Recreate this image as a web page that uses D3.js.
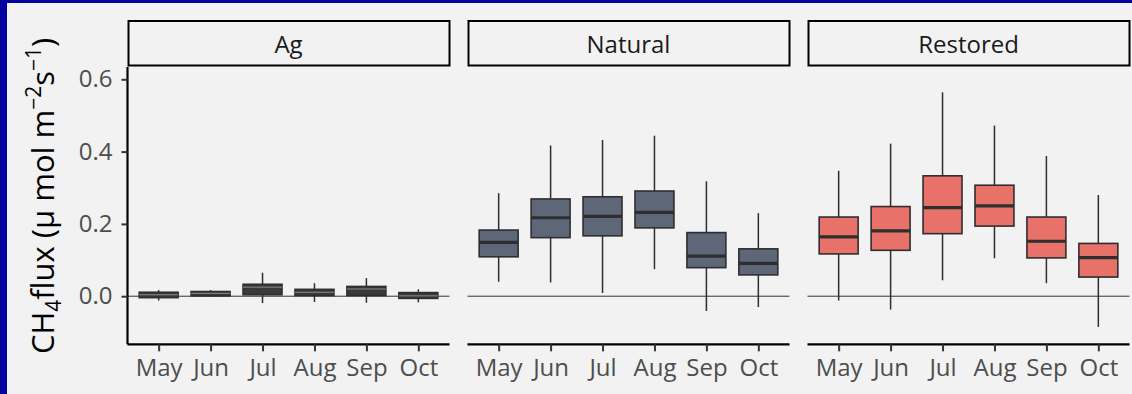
<!DOCTYPE html>
<html>
<head>
<meta charset="utf-8">
<script src="https://cdn.jsdelivr.net/npm/d3@7"></script>
<style>
  html, body { margin: 0; padding: 0; background: #f2f2f2; }
  svg { display: block; }
  text { font-family: "Open Sans", "Noto Sans", sans-serif; }
</style>
</head>
<body>
<svg id="chart" width="1132" height="394"></svg>
<script>
// Monthly CH4 flux distributions by site type
const months = ["May", "Jun", "Jul", "Aug", "Sep", "Oct"];
const sites = ["Ag", "Natural", "Restored"];
const yTicks = [0.0, 0.2, 0.4, 0.6];

// five-number summaries per month: [lower whisker, Q1, median, Q3, upper whisker]
const agStats = [
  [-0.012, -0.004, 0.004, 0.011, 0.017],
  [-0.001, 0.001, 0.008, 0.013, 0.017],
  [-0.019, 0.004, 0.025, 0.033, 0.065],
  [-0.016, 0.002, 0.011, 0.019, 0.036],
  [-0.018, 0.002, 0.020, 0.027, 0.050],
  [-0.017, -0.006, 0.001, 0.010, 0.019]
];
const naturalStats = [
  [0.040, 0.109, 0.149, 0.183, 0.285],
  [0.038, 0.162, 0.217, 0.269, 0.417],
  [0.009, 0.167, 0.221, 0.275, 0.432],
  [0.075, 0.189, 0.232, 0.291, 0.444],
  [-0.041, 0.079, 0.111, 0.176, 0.318],
  [-0.030, 0.059, 0.091, 0.131, 0.230]
];
const restoredStats = [
  [-0.012, 0.117, 0.164, 0.219, 0.347],
  [-0.037, 0.127, 0.181, 0.248, 0.422],
  [0.044, 0.173, 0.245, 0.333, 0.564],
  [0.105, 0.194, 0.250, 0.307, 0.472],
  [0.036, 0.106, 0.152, 0.219, 0.388],
  [-0.085, 0.053, 0.107, 0.146, 0.280]
];

const siteData = [agStats, naturalStats, restoredStats];
const siteFill = ["#393939", "#5e6778", "#e8716a"];
const siteMedian = ["#8c8c8c", "#2e2e2e", "#2e2e2e"];

const svg = d3.select("#chart");

// page frame
svg.append("rect").attr("x", 0).attr("y", 0).attr("width", 1132).attr("height", 394).attr("fill", "#0303a0");
svg.append("rect").attr("x", 7).attr("y", 3).attr("width", 1125).attr("height", 391).attr("fill", "#f2f2f2");

const panelTop = 67, panelBottom = 344.3;
const panelW = 322;
const panelLefts = [127.5, 467.5, 807.5];

const y = d3.scaleLinear().domain([-0.133, 0.634]).range([panelBottom, panelTop]);

sites.forEach((site, i) => {
  const x0 = panelLefts[i];
  const x = d3.scalePoint().domain(months).range([x0, x0 + panelW]).padding(0.6);
  const bw = x.step() * 0.75;
  const g = svg.append("g");

  // facet strip
  g.append("rect")
    .attr("x", x0 + 1).attr("y", 21).attr("width", panelW - 1).attr("height", 44.5)
    .attr("fill", "none").attr("stroke", "#000").attr("stroke-width", 2);
  g.append("text")
    .attr("x", x0 + panelW / 2).attr("y", 53)
    .attr("text-anchor", "middle").attr("font-size", 24).attr("fill", "#1a1a1a")
    .text(site);

  // zero reference line
  g.append("line")
    .attr("x1", x0).attr("x2", x0 + panelW)
    .attr("y1", y(0)).attr("y2", y(0))
    .attr("stroke", "#333").attr("stroke-width", 1);

  // boxplots
  siteData[i].forEach((s, j) => {
    const cx = x(months[j]);
    const [lo, q1, med, q3, hi] = s;
    g.append("line")
      .attr("x1", cx).attr("x2", cx).attr("y1", y(hi)).attr("y2", y(q3))
      .attr("stroke", "#2e2e2e").attr("stroke-width", 1.5);
    g.append("line")
      .attr("x1", cx).attr("x2", cx).attr("y1", y(q1)).attr("y2", y(lo))
      .attr("stroke", "#2e2e2e").attr("stroke-width", 1.5);
    g.append("rect")
      .attr("x", cx - bw / 2).attr("y", y(q3))
      .attr("width", bw).attr("height", Math.max(0.5, y(q1) - y(q3)))
      .attr("fill", siteFill[i]).attr("stroke", "#2e2e2e").attr("stroke-width", 1.6);
    g.append("line")
      .attr("x1", cx - bw / 2).attr("x2", cx + bw / 2).attr("y1", y(med)).attr("y2", y(med))
      .attr("stroke", siteMedian[i]).attr("stroke-width", i === 0 ? 1 : 3.2);
  });

  // x axis
  const xAxis = d3.axisBottom(x).tickSize(7).tickPadding(8).tickSizeOuter(0);
  const xa = g.append("g").attr("transform", `translate(0,${panelBottom})`).call(xAxis);
  xa.select(".domain").attr("d", `M${x0},0H${x0 + panelW}`).attr("stroke", "#000").attr("stroke-width", 2.2);
  xa.selectAll(".tick line").attr("stroke", "#333").attr("stroke-width", 2);
  xa.selectAll(".tick text").attr("font-size", 24).attr("fill", "#4d4d4d")
    .attr("font-family", "'Open Sans', 'Noto Sans', sans-serif");

  // y axis only on the first panel
  if (i === 0) {
    const yAxis = d3.axisLeft(y).tickValues(yTicks).tickFormat(d3.format(".1f")).tickSize(6).tickPadding(9).tickSizeOuter(0);
    const ya = g.append("g").attr("transform", `translate(${x0},0)`).call(yAxis);
    ya.select(".domain").attr("d", `M0,${panelTop}V${panelBottom}`).attr("stroke", "#000").attr("stroke-width", 2.2);
    ya.selectAll(".tick line").attr("stroke", "#333").attr("stroke-width", 2);
    ya.selectAll(".tick text").attr("font-size", 24).attr("fill", "#4d4d4d")
      .attr("font-family", "'Open Sans', 'Noto Sans', sans-serif");
  }
});

// y-axis title with subscript and superscripts
const title = svg.append("text")
  .attr("transform", "translate(54,196) rotate(-90)")
  .attr("text-anchor", "middle").attr("font-size", 31).attr("fill", "#000");
title.append("tspan").text("CH");
title.append("tspan").attr("font-size", 21).attr("dy", 7).text("4");
title.append("tspan").attr("dy", -7).text("flux (µ mol m");
title.append("tspan").attr("font-size", 21).attr("dy", -13).text("−2");
title.append("tspan").attr("dy", 13).text("s");
title.append("tspan").attr("font-size", 21).attr("dy", -13).text("−1");
title.append("tspan").attr("dy", 13).text(")");
</script>
</body>
</html>
